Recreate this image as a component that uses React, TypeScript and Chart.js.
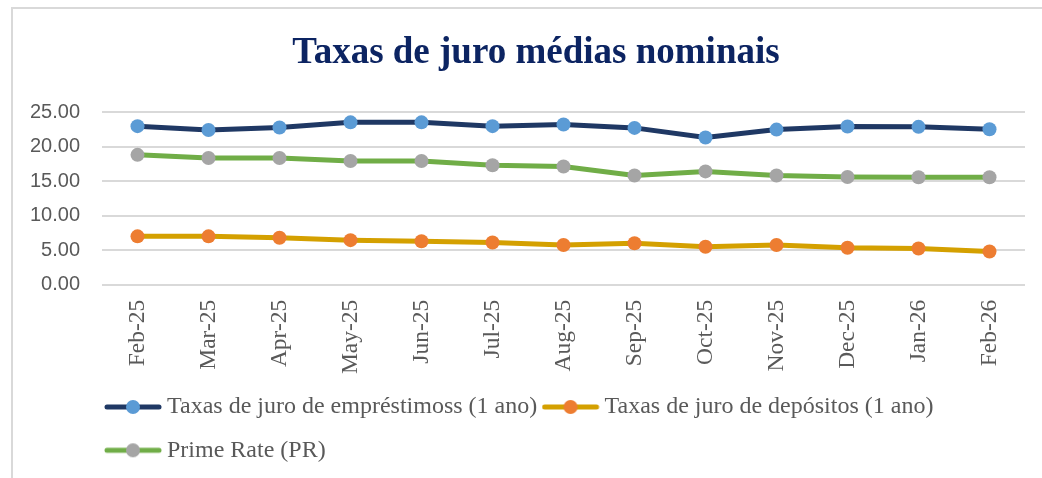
import React, { useEffect, useRef } from 'react';
import { Chart, registerables } from 'chart.js';

Chart.register(...registerables);

const months = ['Feb-25', 'Mar-25', 'Apr-25', 'May-25', 'Jun-25', 'Jul-25', 'Aug-25', 'Sep-25', 'Oct-25', 'Nov-25', 'Dec-25', 'Jan-26', 'Feb-26'];
const loanRates = [22.95, 22.4, 22.75, 23.5, 23.5, 22.95, 23.2, 22.7, 21.3, 22.45, 22.9, 22.85, 22.5];
const depositRates = [7.0, 7.0, 6.8, 6.45, 6.3, 6.1, 5.75, 6.0, 5.5, 5.75, 5.35, 5.25, 4.8];
const primeRates = [18.8, 18.35, 18.35, 17.9, 17.9, 17.3, 17.1, 15.8, 16.4, 15.8, 15.6, 15.55, 15.55];
const seriesLabels = ['Taxas de juro de empréstimoss (1 ano)', 'Taxas de juro de depósitos (1 ano)', 'Prime Rate (PR)'];
const lineColors = ['#1f3864', '#d4a000', '#70ad47'];
const pointColors = ['#5b9bd5', '#ed7d31', '#a5a5a5'];
const titleText = 'Taxas de juro médias nominais';

function makeMarker(line: string, dot: string): HTMLCanvasElement {
  const c = document.createElement('canvas');
  c.width = 66;
  c.height = 16;
  const ctx = c.getContext('2d')!;
  ctx.strokeStyle = line;
  ctx.lineWidth = 5;
  ctx.lineCap = 'round';
  ctx.beginPath();
  ctx.moveTo(3, 8);
  ctx.lineTo(55, 8);
  ctx.stroke();
  ctx.fillStyle = dot;
  ctx.beginPath();
  ctx.arc(29, 8, 7, 0, Math.PI * 2);
  ctx.fill();
  return c;
}

const shiftPlugin = {
  id: 'shiftBlocks',
  afterLayout(chart: any) {
    if (chart.titleBlock) {
      chart.titleBlock.left = 30;
      chart.titleBlock.right = 1042;
    }
    if (chart.legend) {
      chart.legend.left = 99.7;
    }
  },
};

export default function App() {
  const ref = useRef<HTMLCanvasElement | null>(null);

  useEffect(() => {
    const canvas = ref.current;
    if (!canvas) return;
    const markers = lineColors.map((c, i) => makeMarker(c, pointColors[i]));
    const seriesData = [loanRates, depositRates, primeRates];
    const chart = new Chart(canvas, {
      type: 'line',
      data: {
        labels: months,
        datasets: seriesData.map((d, i) => ({
          label: seriesLabels[i],
          data: d,
          borderColor: lineColors[i],
          backgroundColor: pointColors[i],
          borderWidth: 5,
          tension: 0,
          pointRadius: 7,
          pointHoverRadius: 7,
          pointBorderWidth: 0,
          pointBackgroundColor: pointColors[i],
          pointBorderColor: pointColors[i],
          fill: false,
        })),
      },
      options: {
        responsive: false,
        animation: false,
        devicePixelRatio: 1,
        layout: { padding: { left: 0, right: 17, top: 0, bottom: 5.7 } },
        plugins: {
          tooltip: { enabled: false },
          title: {
            display: true,
            text: titleText,
            color: '#0c2462',
            font: { family: '"Liberation Serif", "Times New Roman", serif', size: 37, weight: 'bold', lineHeight: 1.2 },
            padding: { top: 31, bottom: 36.6 },
          },
          legend: {
            display: true,
            position: 'bottom',
            align: 'start',
            fullSize: false,
            labels: {
              color: '#595959',
              font: { family: '"Liberation Serif", "Times New Roman", serif', size: 24 },
              usePointStyle: true,
              pointStyleWidth: 36,
              padding: 19.3,
              generateLabels: (ch: any) => {
                const items = Chart.defaults.plugins.legend.labels.generateLabels(ch);
                return items.map((it: any, i: number) => ({ ...it, pointStyle: markers[i], fontColor: '#595959' }));
              },
            },
          },
        },
        scales: {
          x: {
            type: 'category',
            offset: true,
            grid: { display: false, drawTicks: false },
            border: { display: false },
            ticks: {
              color: '#595959',
              font: { family: '"Liberation Serif", "Times New Roman", serif', size: 23.5 },
              minRotation: 90,
              maxRotation: 90,
              autoSkip: false,
              padding: 15,
            },
            afterFit: (scale: any) => {
              scale.height = 91;
            },
          },
          y: {
            min: 0,
            max: 25,
            grid: { color: '#d9d9d9', lineWidth: 2, drawTicks: false },
            border: { display: false },
            ticks: {
              stepSize: 5,
              color: '#595959',
              font: { family: '"Liberation Sans", Arial, sans-serif', size: 20 },
              padding: 22,
              callback: (v: any) => Number(v).toFixed(2),
            },
            afterFit: (scale: any) => {
              scale.width = 102;
            },
          },
        },
      },
      plugins: [shiftPlugin],
    });
    return () => chart.destroy();
  }, []);

  return (
    <div style={{ position: 'fixed', left: 0, top: 0, width: 1042, height: 478, background: '#ffffff', overflow: 'hidden' }}>
      <div
        style={{
          position: 'absolute',
          left: 11,
          top: 7,
          width: 1100,
          height: 520,
          borderLeft: '2px solid #d9d9d9',
          borderTop: '2px solid #d9d9d9',
        }}
      />
      <canvas ref={ref} width={1042} height={478} style={{ position: 'absolute', left: 0, top: 0, width: 1042, height: 478 }} />
    </div>
  );
}
